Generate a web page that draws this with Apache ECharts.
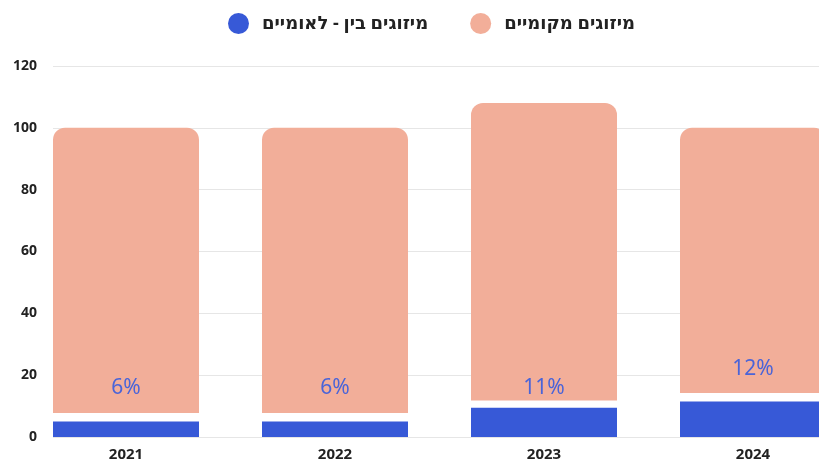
<!DOCTYPE html>
<html>
<head>
<meta charset="utf-8">
<script src="https://cdn.jsdelivr.net/npm/echarts@6/dist/echarts.min.js"></script>
<style>
  html, body { margin: 0; padding: 0; background: #fff; }
  #chart { width: 819px; height: 463px; }
</style>
</head>
<body>
<div id="chart"></div>
<script>
// data
const years = ['2021', '2022', '2023', '2024']
const intlMergers = [5, 5, 9.5, 11.5]          // מיזוגים בין - לאומיים
const spacer = [2.8, 2.8, 2.3, 2.7]            // white gap between the two parts
const localMergers = [92.2, 92.2, 96.2, 85.8]  // מיזוגים מקומיים
const pctLabels = ['6%', '6%', '11%', '12%']
const yTicks = [0, 20, 40, 60, 80, 100, 120]

const BLUE = '#3759d7'
const SALMON = '#f2ae99'
const labelLift = [14, 14, 2, 14]   // distance of % label from the bottom of the salmon part

const chart = echarts.init(document.getElementById('chart'))

chart.setOption({
  animation: false,
  textStyle: { fontFamily: "'Noto Sans', 'DejaVu Sans', sans-serif" },
  legend: {
    top: 8,
    left: 223,
    itemWidth: 21,
    itemHeight: 21,
    itemGap: 42,
    icon: 'circle',
    data: ['מיזוגים בין - לאומיים', 'מיזוגים מקומיים'],
    textStyle: { fontSize: 18, fontWeight: 'bold', color: '#222', padding: [0, 0, 0, 8] }
  },
  grid: [
    // grid 0 only carries the y axis + gridlines
    { left: 53, right: 0, top: 66, bottom: 26, outerBoundsMode: 'none' },
    // grid 1 carries the bars (wider than the page, like the original)
    { left: 21.5, width: 836, top: 66, bottom: 26, outerBoundsMode: 'none' }
  ],
  xAxis: [
    { gridIndex: 0, type: 'value', show: false },
    {
      gridIndex: 1,
      type: 'category',
      data: years,
      axisLine: { show: false },
      axisTick: { show: false },
      axisLabel: { margin: 10, fontSize: 15, fontWeight: 'bold', color: '#222' }
    }
  ],
  yAxis: [
    {
      gridIndex: 0,
      type: 'value',
      min: yTicks[0],
      max: yTicks[yTicks.length - 1],
      interval: 20,
      axisLine: { show: false },
      axisTick: { show: false },
      axisLabel: { margin: 16, fontSize: 14, fontWeight: 'bold', color: '#222' },
      splitLine: { lineStyle: { color: '#e6e6e6', width: 1 } }
    },
    {
      gridIndex: 1,
      type: 'value',
      min: yTicks[0],
      max: yTicks[yTicks.length - 1],
      show: false,
      splitLine: { show: false }
    }
  ],
  series: [
    {
      name: 'מיזוגים בין - לאומיים',
      type: 'bar',
      stack: 'total',
      xAxisIndex: 1,
      yAxisIndex: 1,
      barWidth: 146,
      itemStyle: { color: BLUE },
      data: intlMergers
    },
    {
      name: 'gap',
      type: 'bar',
      stack: 'total',
      xAxisIndex: 1,
      yAxisIndex: 1,
      barWidth: 146,
      itemStyle: { color: 'rgba(0,0,0,0)' },
      data: spacer
    },
    {
      name: 'מיזוגים מקומיים',
      type: 'bar',
      stack: 'total',
      xAxisIndex: 1,
      yAxisIndex: 1,
      barWidth: 146,
      itemStyle: { color: SALMON, borderRadius: [12, 12, 0, 0] },
      data: localMergers.map((v, i) => ({
        value: v,
        label: {
          show: true,
          position: 'insideBottom',
          distance: labelLift[i],
          formatter: pctLabels[i],
          fontSize: 21,
          color: '#4a64d8',
          fontFamily: "'Noto Sans', sans-serif"
        }
      }))
    }
  ]
})
</script>
</body>
</html>
